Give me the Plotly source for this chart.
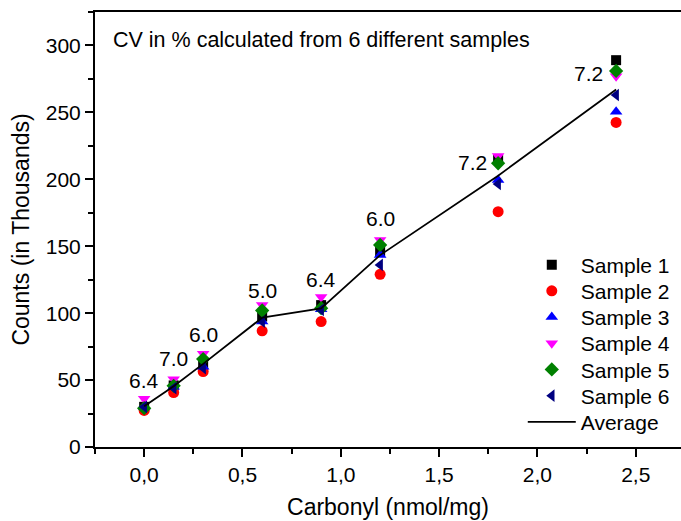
import plotly.graph_objects as go

# Carbonyl amounts (nmol/mg) and counts (thousands) for six samples
carbonyl = [0.0, 0.15, 0.3, 0.6, 0.9, 1.2, 1.8, 2.4]

sample_1 = [30.0, 46.0, 62.0, 97.5, 106.0, 146.0, 215.0, 289.0]
sample_2 = [27.3, 40.7, 56.4, 86.8, 93.7, 129.0, 175.8, 242.5]
sample_3 = [30.0, 45.0, 60.0, 93.7, 103.0, 143.5, 199.5, 250.5]
sample_4 = [36.0, 50.7, 69.6, 106.0, 112.0, 154.7, 217.4, 277.0]
sample_5 = [29.0, 45.7, 65.7, 102.0, 103.7, 151.0, 212.0, 281.0]
sample_6 = [30.0, 44.0, 59.0, 93.7, 102.5, 136.0, 196.5, 263.0]

# Coefficient of variation (%) per concentration
cv_labels = ["6.4", "7.0", "6.0", "5.0", "6.4", "6.0", "7.2", "7.2"]

series = [
    ("Sample 1", sample_1, "square", "#000000", 10),
    ("Sample 2", sample_2, "circle", "#ff0000", 11),
    ("Sample 3", sample_3, "triangle-up", "#0000ff", 11),
    ("Sample 4", sample_4, "triangle-down", "#ff00ff", 11),
    ("Sample 5", sample_5, "diamond", "#008000", 11),
    ("Sample 6", sample_6, "triangle-left", "#000080", 11),
]

FONT = "Liberation Sans, Arial, Helvetica, sans-serif"
FS = 21
TITLE_FS = 23

# each legend entry gets its own legend box so rows can sit 26 px apart
legend_ids = ["legend", "legend2", "legend3", "legend4", "legend5", "legend6", "legend7"]
ROW0_PX, ROW_STEP_PX = 265, 26.2
PLOT_TOP, PLOT_H = 12, 435

fig = go.Figure()
for k, (name, vals, sym, col, size) in enumerate(series):
    fig.add_trace(go.Scatter(
        x=carbonyl, y=vals, mode="markers", name=name, legend=legend_ids[k],
        marker=dict(symbol=sym, color=col, size=size, line=dict(width=0)),
    ))

all_vals = [s[1] for s in series]
average = [sum(v[i] for v in all_vals) / len(all_vals) for i in range(len(carbonyl))]
fig.add_trace(go.Scatter(
    x=carbonyl, y=average, mode="lines", name="Average", legend=legend_ids[6],
    line=dict(color="black", width=1.8),
))

# CV labels placed relative to the highest point of each group (pixel shifts)
label_shift = [(0, 18), (0, 21), (0, 19), (0, 15), (0, 18), (0, 21), (-26, -6), (-28, -13)]
group_max = [max(v[i] for v in all_vals) for i in range(len(carbonyl))]
for xv, top, txt, (dx, dy) in zip(carbonyl, group_max, cv_labels, label_shift):
    fig.add_annotation(
        x=xv, y=top, text=txt, showarrow=False,
        xanchor="center", yanchor="middle", xshift=dx, yshift=dy,
        font=dict(family=FONT, size=FS, color="black"),
    )

fig.add_annotation(
    xref="paper", yref="paper", x=0.027, y=0.935,
    text="CV in % calculated from 6 different samples", showarrow=False,
    xanchor="left", yanchor="middle",
    font=dict(family=FONT, size=21.5, color="black"),
)

legend_layout = {}
for k, lid in enumerate(legend_ids):
    centre_px = ROW0_PX + k * ROW_STEP_PX
    legend_layout[lid] = dict(
        x=0.73, y=1 - (centre_px - PLOT_TOP) / PLOT_H,
        xanchor="left", yanchor="middle",
        bgcolor="rgba(0,0,0,0)", borderwidth=0,
        font=dict(family=FONT, size=FS, color="black"),
        itemwidth=48,
    )

fig.update_layout(
    width=681, height=521,
    margin=dict(l=95, r=0, t=12, b=74),
    paper_bgcolor="white", plot_bgcolor="white",
    separators=",.",
    font=dict(family=FONT, size=FS, color="black"),
    showlegend=True,
    **legend_layout,
    xaxis=dict(
        range=[-0.25, 2.73], tick0=0, dtick=0.5, tickformat=".1f",
        showgrid=False, zeroline=False,
        showline=True, linewidth=2, linecolor="black", mirror=True,
        ticks="outside", ticklen=8, tickwidth=2, tickcolor="black",
        minor=dict(dtick=0.25, ticks="outside", ticklen=5, tickwidth=2, tickcolor="black", showgrid=False),
        title=dict(text="Carbonyl (nmol/mg)", font=dict(family=FONT, size=TITLE_FS), standoff=14),
        tickfont=dict(family=FONT, size=FS),
    ),
    yaxis=dict(
        range=[0, 325], tick0=0, dtick=50,
        showgrid=False, zeroline=False,
        showline=True, linewidth=2, linecolor="black", mirror=False,
        ticks="outside", ticklen=8, tickwidth=2, tickcolor="black",
        minor=dict(dtick=25, ticks="outside", ticklen=5, tickwidth=2, tickcolor="black", showgrid=False),
        title=dict(text="Counts (in Thousands)", font=dict(family=FONT, size=TITLE_FS), standoff=10),
        tickfont=dict(family=FONT, size=FS),
    ),
)

fig.write_html("out.html")
